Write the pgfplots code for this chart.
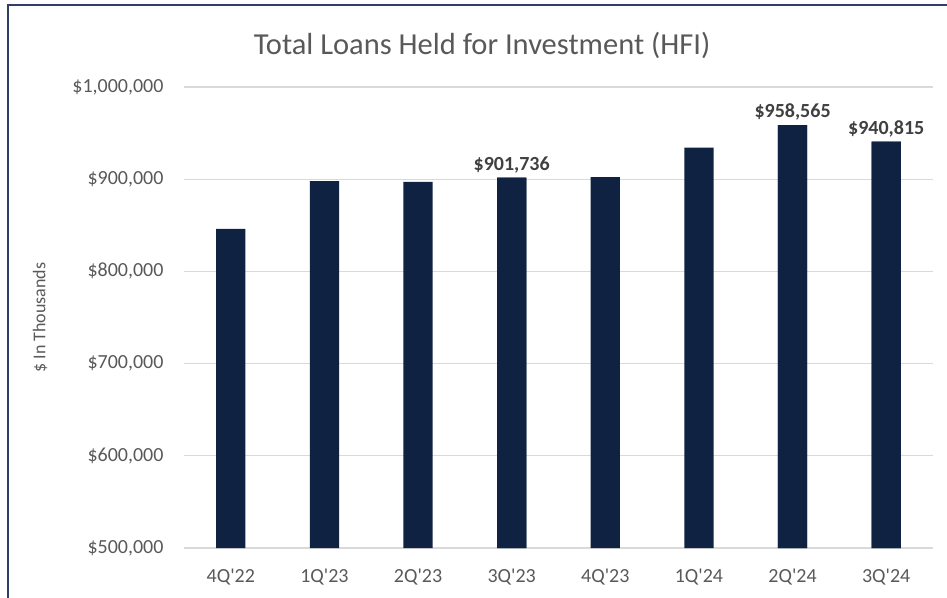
\documentclass[border=0pt]{standalone}
\usepackage{pgfplots}
\pgfplotsset{compat=1.18}
\usepackage{fontspec}
\setmainfont{Carlito}
\definecolor{barnavy}{HTML}{0F2242}
\definecolor{txtgray}{HTML}{595959}
\definecolor{lblgray}{HTML}{404040}
\definecolor{gridgray}{HTML}{D9D9D9}
\definecolor{framenavy}{HTML}{2F3F66}
\begin{document}
\begin{tikzpicture}[x=1pt,y=1pt]
\useasboundingbox (0,0) rectangle (947,597);
\draw[framenavy, line width=1.5pt] (8,-2) -- (8,592) -- (949,592);
\begin{axis}[
  at={(184pt,49pt)}, anchor=south west,
  scale only axis, width=749pt, height=461pt,
  ybar, bar width=29.3pt, bar shift=0pt,
  xmin=-0.5, xmax=7.5, ymin=500000, ymax=1000000,
  scaled y ticks=false,
  axis lines*=left,
  y axis line style={draw=none},
  x axis line style={draw=gridgray, line width=1.3pt, -},
  major tick length=0pt,
  xtick={0,...,7},
  xticklabels={4Q\textquotesingle22,1Q\textquotesingle23,2Q\textquotesingle23,3Q\textquotesingle23,4Q\textquotesingle23,1Q\textquotesingle24,2Q\textquotesingle24,3Q\textquotesingle24},
  ytick={500000,600000,700000,800000,900000,1000000},
  yticklabels={{\$500,000},{\$600,000},{\$700,000},{\$800,000},{\$900,000},{\$1,000,000}},
  ymajorgrids, grid style={draw=gridgray, line width=1.2pt},
  tick label style={font=\fontsize{20}{23}\selectfont, text=txtgray},
  yticklabel style={xshift=-17pt},
  xticklabel style={yshift=-17pt},
  ylabel={\$ In Thousands},
  ylabel style={at={(axis description cs:-0.192,0.5)}, anchor=center, font=\fontsize{18}{21}\selectfont, text=txtgray},
  title={Total Loans Held for Investment (HFI)},
  title style={at={(axis description cs:0.398,1.078)}, anchor=center, font=\fontsize{30.5}{34}\selectfont, text=txtgray},
  clip=false,
]
\addplot[fill=barnavy, draw=none] coordinates {
  (0,846000) (1,898000) (2,897200) (3,901736) (4,902200) (5,934300) (6,958565) (7,940815)
};
\addplot[fill=barnavy, draw=none,
  point meta=explicit symbolic,
  nodes near coords,
  nodes near coords style={font=\bfseries\fontsize{20}{23}\selectfont, text=lblgray, anchor=south, yshift=1pt}
] coordinates {
  (3,901736) [{\$901,736}] (6,958565) [{\$958,565}] (7,940815) [{\$940,815}]
};
\end{axis}
\end{tikzpicture}
\end{document}
